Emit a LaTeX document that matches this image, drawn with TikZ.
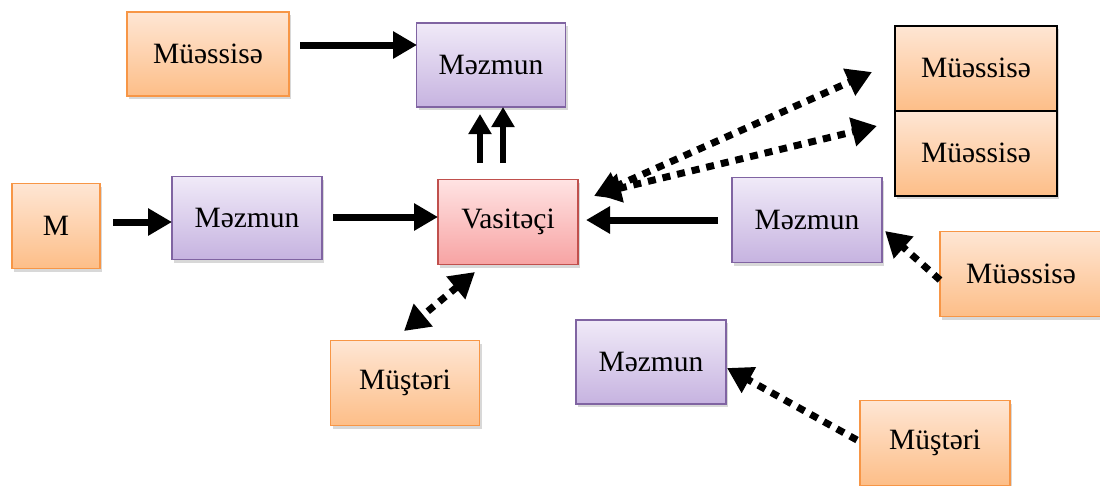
\documentclass[tikz,border=0pt]{standalone}
\usepackage{fontspec}
\setmainfont{Liberation Serif}
\usetikzlibrary{arrows.meta,shadows}
\definecolor{orBorder}{HTML}{F79646}
\definecolor{orTop}{HTML}{FEE6D4}
\definecolor{orBot}{HTML}{FDBE88}
\definecolor{puBorder}{HTML}{8064A2}
\definecolor{puTop}{HTML}{F0EAF8}
\definecolor{puBot}{HTML}{C6B3E0}
\definecolor{reBorder}{HTML}{C0504D}
\definecolor{reTop}{HTML}{FFE3E3}
\definecolor{reBot}{HTML}{F7A3A3}
\tikzset{
  box/.style={rectangle, inner sep=0pt, font=\fontsize{29.5}{31}\selectfont,
    drop shadow={opacity=0.3, shadow xshift=2pt, shadow yshift=-3pt}},
  orbox/.style={box, draw=orBorder, line width=1.5pt, top color=orTop, bottom color=orBot},
  blkbox/.style={box, draw=black, line width=2pt, top color=orTop, bottom color=orBot},
  pubox/.style={box, draw=puBorder, line width=1.5pt, top color=puTop, bottom color=puBot},
  rebox/.style={box, draw=reBorder, line width=1.5pt, top color=reTop, bottom color=reBot},
  solidarrow/.style={line width=7pt, -{Triangle[length=24pt,width=26pt]}},
  uparrow/.style={line width=6.5pt, -{Triangle[length=20pt,width=22pt]}},
  dotarrow/.style={line width=7pt, dash pattern=on 8pt off 7pt, -{Triangle[length=25pt,width=28pt]}},
  dotboth/.style={line width=7pt, dash pattern=on 8pt off 7pt, {Triangle[length=25pt,width=28pt]}-{Triangle[length=25pt,width=28pt]}}
}
\begin{document}
\begin{tikzpicture}[x=1pt,y=-1pt]
\useasboundingbox[fill=white] (0,0) rectangle (1100,485);
% nodes
\node[orbox, minimum width=162pt, minimum height=84pt] (mu1) at (208,54) {Müəssisə};
\node[pubox, minimum width=149pt, minimum height=84pt] (mz1) at (491,65) {Məzmun};
\node[orbox, minimum width=88pt, minimum height=85pt] (m) at (56,226) {M};
\node[pubox, minimum width=150pt, minimum height=83pt] (mz2) at (247,218) {Məzmun};
\node[rebox, minimum width=140pt, minimum height=85pt] (va) at (508,222) {Vasitəçi};
\node[blkbox, minimum width=162pt, minimum height=85pt] (mu2) at (976,68) {Müəssisə};
\node[blkbox, minimum width=162pt, minimum height=85pt] (mu3) at (976,153) {Müəssisə};
\node[pubox, minimum width=150pt, minimum height=85pt] (mz3) at (807,220) {Məzmun};
\node[orbox, minimum width=162pt, minimum height=85pt] (mu4) at (1021,274) {Müəssisə};
\node[orbox, minimum width=149pt, minimum height=85pt] (mt1) at (405,383) {Müştəri};
\node[pubox, minimum width=150pt, minimum height=84pt] (mz4) at (651,362) {Məzmun};
\node[orbox, minimum width=150pt, minimum height=85pt] (mt2) at (935,443) {Müştəri};
% connector end points
\coordinate (a1s) at (300,45);  \coordinate (a1e) at (417,45);
\coordinate (u1s) at (480,163); \coordinate (u1e) at (480,114);
\coordinate (u2s) at (503,163); \coordinate (u2e) at (503,107);
\coordinate (a2s) at (113,222); \coordinate (a2e) at (172,222);
\coordinate (a3s) at (333,217); \coordinate (a3e) at (438,217);
\coordinate (a4s) at (718,220); \coordinate (a4e) at (586,220);
\coordinate (d1s) at (594,196); \coordinate (d1e) at (872,72);
\coordinate (d2s) at (596,194); \coordinate (d2e) at (877,126);
\coordinate (d3s) at (940,280); \coordinate (d3e) at (885,231);
\coordinate (d4s) at (475,272); \coordinate (d4e) at (404,331);
\coordinate (d5s) at (857,440); \coordinate (d5e) at (727,368);
% connectors
\draw[solidarrow] (a1s) -- (a1e);
\draw[uparrow] (u1s) -- (u1e);
\draw[uparrow] (u2s) -- (u2e);
\draw[solidarrow] (a2s) -- (a2e);
\draw[solidarrow] (a3s) -- (a3e);
\draw[solidarrow] (a4s) -- (a4e);
\draw[dotboth] (d1s) -- (d1e);
\draw[dotboth] (d2s) -- (d2e);
\draw[dotarrow] (d3s) -- (d3e);
\draw[dotboth] (d4s) -- (d4e);
\draw[dotarrow] (d5s) -- (d5e);
\end{tikzpicture}
\end{document}
